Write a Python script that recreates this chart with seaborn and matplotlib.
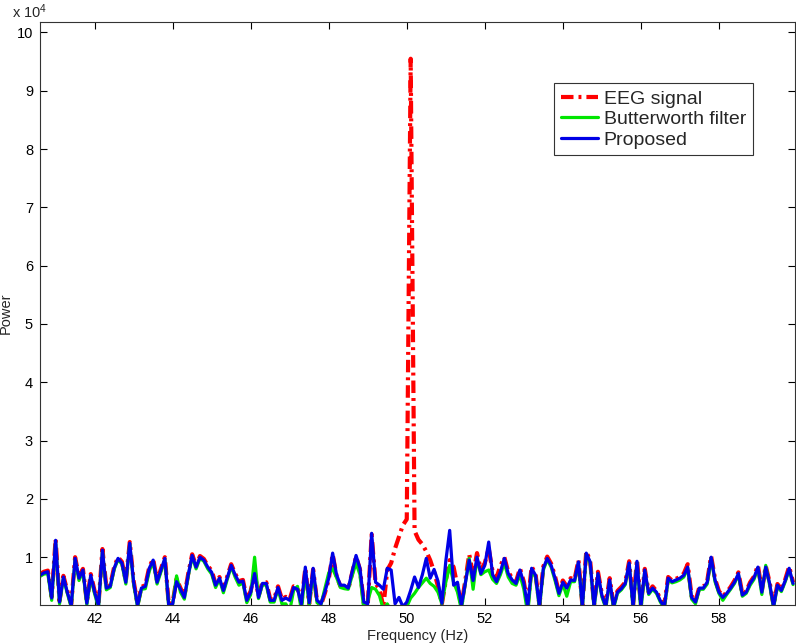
import numpy as np
import pandas as pd
import seaborn as sns
import matplotlib
matplotlib.use("Agg")
import matplotlib.pyplot as plt
from matplotlib.ticker import FuncFormatter

# frequency grid (Hz), 0.1 Hz bins
freq = np.round(np.arange(406, 600) / 10, 1)

# power values in thousands
eeg_k = [
    7.1, 7.5, 7.7, 3.2, 13.1, 2.5, 6.8, 4.2, 1.9, 10.0,
    6.6, 8.0, 2.3, 7.1, 4.2, 1.9, 11.4, 4.9, 5.2, 8.3,
    10.0, 9.2, 5.9, 12.6, 5.9, 1.9, 4.9, 5.2, 8.3, 9.7,
    5.9, 8.0, 10.0, 1.9, 2.2, 6.3, 4.7, 3.3, 7.2, 10.5,
    8.5, 10.2, 9.7, 8.5, 7.7, 5.4, 6.6, 4.5, 6.7, 8.8,
    7.2, 5.9, 6.1, 2.8, 4.2, 7.4, 3.3, 5.7, 5.7, 2.8,
    2.8, 5.0, 2.8, 3.2, 2.8, 5.0, 4.7, 2.2, 8.1, 2.0,
    7.9, 2.4, 1.8, 3.8, 6.2, 10.5, 6.8, 5.0, 5.0, 4.5,
    7.3, 10.1, 7.9, 2.1, 1.8, 13.9, 5.5, 4.5, 1.5, 7.8,
    9.0, 11.5, 13.5, 15.5, 16.5, 95.5, 14.5, 13.0, 12.2, 11.0,
    9.5, 7.5, 5.0, 2.0, 6.0, 9.5, 8.3, 5.0, 1.7, 6.0,
    10.5, 7.0, 10.7, 7.8, 9.0, 11.5, 7.5, 6.5, 8.5, 10.0,
    7.5, 6.4, 5.8, 8.1, 5.8, 1.8, 8.4, 7.1, 1.8, 8.4,
    10.1, 8.9, 6.7, 4.0, 6.0, 5.0, 6.4, 6.2, 9.5, 1.8,
    11.0, 9.4, 1.8, 7.5, 3.7, 1.8, 6.4, 1.8, 4.2, 4.9,
    5.7, 9.3, 1.8, 9.6, 1.8, 8.0, 4.0, 5.0, 4.2, 2.8,
    1.8, 6.6, 6.0, 6.3, 6.6, 7.2, 8.8, 3.3, 2.5, 4.9,
    4.9, 5.9, 10.2, 6.3, 4.2, 3.3, 4.0, 4.9, 6.0, 7.4,
    3.7, 4.2, 5.7, 6.7, 8.6, 4.2, 8.5, 5.7, 1.8, 5.4,
    4.5, 6.2, 8.4, 5.7,
]

butter_k = [
    6.7, 7.1, 7.2, 2.6, 12.6, 2.0, 6.4, 3.8, 1.4, 9.6,
    6.0, 7.6, 1.8, 6.6, 3.7, 1.4, 11.0, 4.4, 4.8, 7.9,
    9.6, 8.8, 5.4, 12.2, 5.4, 1.4, 4.5, 4.6, 7.6, 9.3,
    5.4, 7.5, 9.6, 1.4, 2.0, 6.8, 4.0, 2.8, 6.8, 10.1,
    8.0, 9.8, 9.3, 8.0, 7.1, 4.8, 6.2, 3.9, 6.2, 8.4,
    6.6, 5.2, 5.6, 2.2, 3.6, 10.0, 2.9, 5.3, 5.2, 2.3,
    2.3, 4.6, 2.0, 2.0, 0.8, 4.3, 5.0, 0.8, 7.6, 1.8,
    7.4, 2.2, 1.8, 4.6, 7.3, 8.0, 6.5, 4.8, 4.6, 4.5,
    6.8, 9.0, 7.0, 1.0, 2.5, 4.8, 4.5, 3.4, 1.0, 2.0,
    0.8, 0.8, 0.8, 0.8, 1.5, 3.0, 3.8, 4.8, 5.6, 6.4,
    5.5, 5.0, 4.0, 2.0, 5.7, 8.6, 5.7, 4.0, 1.0, 5.5,
    9.8, 4.5, 9.8, 7.0, 7.5, 7.8, 6.2, 5.5, 7.0, 9.0,
    6.6, 5.5, 5.2, 7.0, 4.5, 0.3, 7.6, 6.6, 1.2, 7.8,
    9.6, 8.3, 6.0, 3.4, 5.4, 3.3, 5.8, 5.8, 9.0, 1.3,
    10.5, 9.0, 1.2, 7.0, 3.2, 1.3, 5.8, 1.2, 3.8, 4.4,
    5.3, 8.8, 1.2, 9.1, 0.8, 7.6, 3.6, 4.5, 3.8, 2.3,
    1.2, 6.1, 5.6, 5.8, 6.1, 6.6, 8.1, 2.8, 2.0, 4.5,
    4.5, 5.4, 9.8, 5.8, 3.8, 2.6, 3.6, 4.5, 5.5, 7.0,
    3.3, 3.8, 5.2, 6.2, 8.1, 3.6, 8.6, 5.2, 1.3, 5.0,
    4.1, 5.8, 7.9, 5.3,
]

proposed_k = [
    6.9, 7.3, 7.5, 3.0, 12.9, 2.3, 6.6, 4.0, 1.7, 9.8,
    6.4, 7.8, 2.1, 6.9, 4.0, 1.7, 11.2, 4.7, 5.0, 8.1,
    9.8, 9.0, 5.7, 12.4, 5.7, 1.7, 4.7, 5.0, 8.1, 9.5,
    5.7, 7.8, 9.8, 1.7, 2.0, 5.8, 4.5, 3.1, 7.0, 10.3,
    8.3, 10.0, 9.5, 8.3, 7.4, 5.2, 6.4, 4.3, 6.5, 8.6,
    7.0, 5.7, 5.9, 2.6, 4.0, 7.2, 3.1, 5.5, 5.5, 2.6,
    2.6, 4.8, 2.6, 3.0, 2.6, 4.8, 4.5, 2.0, 8.3, 2.2,
    8.1, 2.6, 2.0, 4.0, 6.4, 10.7, 7.0, 5.2, 5.2, 4.7,
    7.5, 10.3, 8.1, 2.3, 2.0, 14.1, 5.7, 5.2, 4.5, 8.1,
    7.8, 2.0, 3.1, 1.5, 2.3, 4.3, 6.6, 4.8, 7.0, 9.8,
    6.4, 7.9, 5.9, 2.1, 9.3, 14.6, 5.2, 5.7, 1.7, 5.5,
    9.5, 6.0, 10.0, 7.2, 8.6, 12.6, 7.0, 5.8, 7.5, 9.8,
    7.2, 6.1, 5.5, 7.8, 5.5, 1.5, 8.1, 6.9, 1.5, 8.1,
    9.8, 8.6, 6.4, 3.8, 5.7, 4.7, 6.1, 6.0, 9.2, 1.5,
    10.7, 9.2, 1.5, 7.2, 3.5, 1.5, 6.1, 1.5, 4.0, 4.6,
    5.5, 9.0, 1.5, 9.3, 1.5, 7.8, 3.8, 4.7, 4.0, 2.5,
    1.5, 6.4, 5.8, 6.1, 6.4, 6.9, 8.3, 3.1, 2.3, 4.7,
    4.7, 5.7, 10.0, 6.1, 4.0, 3.1, 3.8, 4.7, 5.7, 7.2,
    3.5, 4.0, 5.5, 6.5, 8.3, 4.0, 8.3, 5.5, 1.5, 5.2,
    4.3, 6.0, 8.1, 5.5,
]

ytick_vals = [1, 2, 3, 4, 5, 6, 7, 8, 9, 10]
xtick_vals = [42, 44, 46, 48, 50, 52, 54, 56, 58]

df = pd.DataFrame({
    "freq": freq,
    "EEG signal": np.array(eeg_k) * 1e3,
    "Butterworth filter": np.array(butter_k) * 1e3,
    "Proposed": np.array(proposed_k) * 1e3,
})

sns.set_style("ticks")
plt.rcParams["font.family"] = ["Liberation Sans", "DejaVu Sans"]
plt.rcParams["mathtext.default"] = "regular"

fig = plt.figure(figsize=(7.96, 6.43), dpi=100)
ax = fig.add_axes([40 / 796, 38 / 643, 755 / 796, 583 / 643])

sns.lineplot(data=df, x="freq", y="EEG signal", ax=ax, color="#ff0000",
             linewidth=3.0, linestyle=(0, (3.0, 1.2, 0.7, 1.2)), label="EEG signal")
sns.lineplot(data=df, x="freq", y="Butterworth filter", ax=ax, color="#00e600",
             linewidth=2.3, label="Butterworth filter")
sns.lineplot(data=df, x="freq", y="Proposed", ax=ax, color="#0000e6",
             linewidth=2.3, label="Proposed")

ax.set_xlim(40.6, 59.95)
ax.set_ylim(1800, 101800)
ax.set_xticks(xtick_vals)
ax.set_yticks([v * 1e4 for v in ytick_vals])
ax.yaxis.set_major_formatter(FuncFormatter(lambda v, p: f"{v / 1e4:g}"))
ax.tick_params(direction="in", length=5, width=0.8, top=True, right=True,
               labelsize=10.5, colors="black", pad=5)
for s in ax.spines.values():
    s.set_visible(True)
    s.set_linewidth(0.8)
    s.set_color("#333333")

ax.set_xlabel("Frequency (Hz)", fontsize=10.5, labelpad=2)
ax.set_ylabel("Power", fontsize=10.5, labelpad=3)
fig.text(12 / 796, 1 - 12 / 643, "x 10$^{4}$", fontsize=10.5, ha="left", va="center")

leg = ax.legend(loc="upper left", bbox_to_anchor=(0.681, 0.895), fontsize=14,
                frameon=True, fancybox=False, framealpha=1, edgecolor="#333333",
                handlelength=1.9, handletextpad=0.3, labelspacing=0.15,
                borderpad=0.35, borderaxespad=0)
leg.get_frame().set_linewidth(0.8)

fig.savefig("out.png", dpi=100)
